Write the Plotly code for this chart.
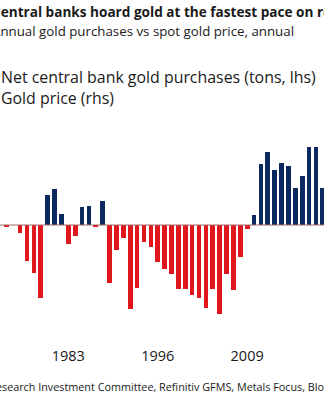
import plotly.graph_objects as go

# Net central bank gold purchases, tons per year
years = list(range(1974, 2021))
net_purchases = [
    -20, 0, -64, -302, -406, -610, 252, 305, 92, -160,
    -92, 148, 157, -17, 199, -484, -210, -109, -703, -526,
    -143, -188, -314, -367, -412, -538, -540, -588, -616, -700,
    -540, -748, -409, -546, -266, -34, 81, 512, 610, 459,
    524, 498, 311, 409, 655, 655, 314,
]

tick_years = [1983, 1996, 2009, 2022]
tick_labels = ["1983", "1996", "2009", "2022"]

title = "Central banks hoard gold at the fastest pace on record"
subtitle = "Annual gold purchases vs spot gold price, annual"
legend_lines = ["Net central bank gold purchases (tons, lhs)", "Gold price (rhs)"]
source = ("Source: BofA Global Research Investment Committee, Refinitiv GFMS, "
          "Metals Focus, Bloomberg")

NAVY = "#0c2a5f"
RED = "#e2171e"
TEXT = "#1a1a1a"
FONT = "Open Sans"

W, H = 324, 398
colors = [NAVY if v >= 0 else RED for v in net_purchases]

fig = go.Figure()
fig.add_trace(go.Bar(
    x=years, y=net_purchases, marker=dict(color=colors, line=dict(width=0)),
    width=0.68, showlegend=False,
))

fig.add_hline(y=0, line=dict(color="#a86a6a", width=1))

# plot area: top edge at 0, bottom edge at 340 px
plot_h = 340
zero_px = 225
tons_per_px = 8.4
ymax = zero_px * tons_per_px
ymin = -(plot_h - zero_px) * tons_per_px

fig.update_layout(
    width=W, height=H,
    margin=dict(l=0, r=0, t=0, b=H - plot_h),
    paper_bgcolor="white", plot_bgcolor="white",
    font=dict(family=FONT, color=TEXT),
    xaxis=dict(
        range=[1973.07, 2020.17], tickvals=tick_years, ticktext=tick_labels,
        showgrid=False, zeroline=False, showline=False,
        ticks="outside", ticklen=3, tickcolor="white",
        tickfont=dict(size=14.5, color=TEXT, family=FONT),
    ),
    yaxis=dict(range=[ymin, ymax], visible=False),
    bargap=0,
)

def px_x(px):
    return px / W

def px_y(px):
    # paper y for a pixel row measured from the top of the figure
    return (plot_h - px) / plot_h

annotations = [
    dict(text=f"<b>{title}</b>", x=px_x(-10), y=px_y(11.5), size=13.6),
    dict(text=subtitle, x=px_x(-10), y=px_y(31), size=13.3),
    dict(text=legend_lines[0], x=px_x(-1), y=px_y(77), size=15.9),
    dict(text=legend_lines[1], x=px_x(-1.5), y=px_y(98), size=15.9),
    dict(text=source, x=px_x(-115), y=px_y(386), size=10.8),
]
for a in annotations:
    fig.add_annotation(
        text=a["text"], x=a["x"], y=a["y"], xref="paper", yref="paper",
        xanchor="left", yanchor="middle", showarrow=False,
        font=dict(size=a["size"], family=FONT, color=TEXT),
    )

fig.write_html("out.html")
